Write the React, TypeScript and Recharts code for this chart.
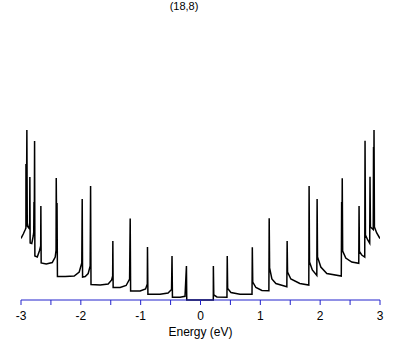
import { LineChart, Line, XAxis, YAxis, Label } from "recharts";

// (18,8) nanotube density of states
const energy = [
  -3.0, -2.962, -2.928, -2.918, -2.917, -2.91, -2.902, -2.895, -2.87, -2.855,
  -2.852, -2.847, -2.82, -2.795, -2.787, -2.783, -2.778, -2.773, -2.768, -2.728,
  -2.69, -2.671, -2.668, -2.663, -2.578, -2.478, -2.428, -2.414, -2.411, -2.404,
  -2.398, -2.391, -2.261, -2.111, -2.027, -1.984, -1.977, -1.971, -1.927, -1.877,
  -1.844, -1.837, -1.83, -1.677, -1.543, -1.485, -1.468, -1.465, -1.46, -1.343,
  -1.243, -1.185, -1.175, -1.168, -1.009, -0.918, -0.889, -0.886, -0.879, -0.676,
  -0.542, -0.484, -0.476, -0.469, -0.342, -0.259, -0.235, -0.23, 0.214, 0.215,
  0.222, 0.275, 0.442, 0.447, 0.454, 0.509, 0.659, 0.861, 0.866, 0.873,
  0.926, 1.026, 1.143, 1.148, 1.155, 1.193, 1.26, 1.443, 1.448, 1.455,
  1.51, 1.66, 1.81, 1.815, 1.822, 1.869, 1.944, 1.949, 1.956, 2.011,
  2.111, 2.353, 2.359, 2.364, 2.369, 2.376, 2.428, 2.528, 2.645, 2.65,
  2.656, 2.695, 2.745, 2.75, 2.757, 2.795, 2.828, 2.833, 2.84, 2.887,
  2.892, 2.895, 2.9, 2.907, 2.945, 3.0,
];

const dos = [
  6.15, 6.6, 7.05, 7.2, 13.6, 7.4, 17.0, 7.4, 7.2, 7.7,
  12.3, 5.7, 5.65, 6.4, 6.8, 9.8, 7.0, 15.9, 4.4, 4.3,
  4.95, 5.4, 9.4, 3.7, 3.6, 3.75, 4.3, 5.0, 12.2, 6.5,
  9.7, 2.35, 2.35, 2.4, 2.8, 3.7, 10.1, 2.3, 2.35, 2.65,
  3.4, 11.4, 1.55, 1.5, 1.6, 2.0, 2.4, 5.9, 1.25, 1.25,
  1.45, 2.1, 8.15, 0.9, 0.9, 1.1, 1.6, 5.3, 0.57, 0.57,
  0.7, 1.05, 4.4, 0.27, 0.27, 0.37, 3.4, 0, 0, 3.4,
  0.5, 0.3, 0.27, 4.4, 1.15, 0.75, 0.57, 0.57, 5.27, 1.8,
  1.25, 0.95, 0.93, 8.17, 3.2, 2.1, 1.65, 1.33, 5.9, 2.8,
  2.1, 1.65, 1.5, 11.4, 3.8, 3.0, 2.45, 10.1, 4.3, 3.3,
  2.65, 2.4, 9.8, 6.0, 12.17, 4.9, 4.2, 3.8, 3.67, 9.4,
  4.85, 4.5, 4.3, 15.93, 6.5, 6.0, 5.67, 12.33, 7.3, 7.05,
  15.3, 7.4, 17.0, 7.3, 6.7, 6.15,
];

const xTicks = [-3, -2.5, -2, -1.5, -1, -0.5, 0, 0.5, 1, 1.5, 2, 2.5, 3];

const title = "(18,8)";
const xLabel = "Energy (eV)";

const points = energy.map((e, i) => ({ e, d: dos[i] }));

const font = "'Liberation Sans', Arial, sans-serif";
const axisBlue = "#2222cc";

export default function App() {
  return (
    <div style={{ position: "absolute", left: 0, top: 0, width: 409, height: 345, background: "#fff" }}>
      <div
        style={{
          position: "absolute",
          left: 0,
          width: 368,
          top: 0,
          textAlign: "center",
          fontFamily: font,
          fontSize: 11,
          color: "#000",
        }}
      >
        {title}
      </div>
      <LineChart width={409} height={345} data={points} margin={{ top: 100, right: 29, left: 21, bottom: 0 }}>
        <XAxis
          type="number"
          dataKey="e"
          domain={[-3, 3]}
          ticks={xTicks}
          tickFormatter={(v: number) => (Number.isInteger(v) ? String(v) : "")}
          stroke={axisBlue}
          tickLine={{ stroke: axisBlue }}
          tickSize={5}
          tickMargin={6}
          tick={{ fill: "#000", fontSize: 12, fontFamily: font }}
          height={45}
          allowDataOverflow
        >
          <Label value={xLabel} position="insideBottom" offset={9} fill="#000" fontSize={12} fontFamily={font} />
        </XAxis>
        <YAxis hide domain={[0, 20]} />
        <Line
          type="linear"
          dataKey="d"
          stroke="#000"
          strokeWidth={1.5}
          dot={false}
          isAnimationActive={false}
        />
      </LineChart>
    </div>
  );
}
